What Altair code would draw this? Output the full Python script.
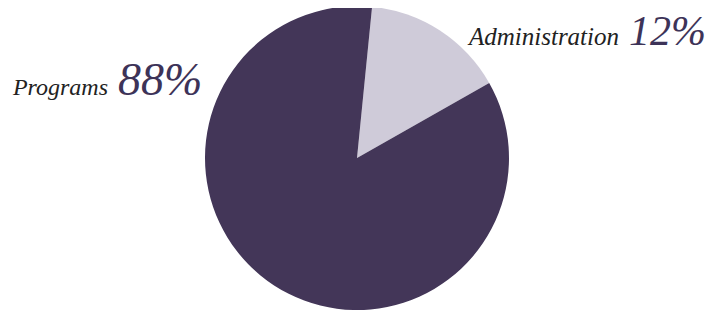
import altair as alt
import pandas as pd
import math

categories = ["Administration", "Programs"]
shares = [15.2, 84.8]          # slice sizes as drawn
labels = ["12%", "88%"]        # printed percentages
colors = ["#cfcbd9", "#433658"]

df = pd.DataFrame({"category": categories, "share": shares, "label": labels,
                   "idx": list(range(len(categories)))})

start = 5.7 * math.pi / 180

pie = alt.Chart(df).mark_arc(stroke=None).encode(
    theta=alt.Theta("share:Q", stack=True, scale=alt.Scale(range=[start, start + 2 * math.pi])),
    color=alt.Color("category:N", scale=alt.Scale(domain=categories, range=colors), legend=None),
    order=alt.Order("idx:Q"),
    x=alt.value(349), y=alt.value(150), radius=alt.value(152),
)

def name_text(cat, x, y, size):
    return alt.Chart(df).transform_filter(alt.datum.category == cat).mark_text(
        font="Liberation Serif", fontStyle="italic", fontSize=size, color="#222222",
        align="right", baseline="alphabetic"
    ).encode(text="category:N", x=alt.value(x), y=alt.value(y))

def pct_text(cat, x, y, size):
    return alt.Chart(df).transform_filter(alt.datum.category == cat).mark_text(
        font="Liberation Serif", fontStyle="italic", fontSize=size, color="#3d3358",
        align="left", baseline="alphabetic"
    ).encode(text="label:N", x=alt.value(x), y=alt.value(y))

chart = alt.layer(
    pie,
    name_text("Programs", 100, 87, 24),
    pct_text("Programs", 110, 87, 46),
    name_text("Administration", 611, 37, 25),
    pct_text("Administration", 621, 37, 42),
).properties(width=712, height=302, padding=0, autosize="none").configure_view(stroke=None)

chart.save("out.html", embed_options={"renderer": "svg", "actions": False})
